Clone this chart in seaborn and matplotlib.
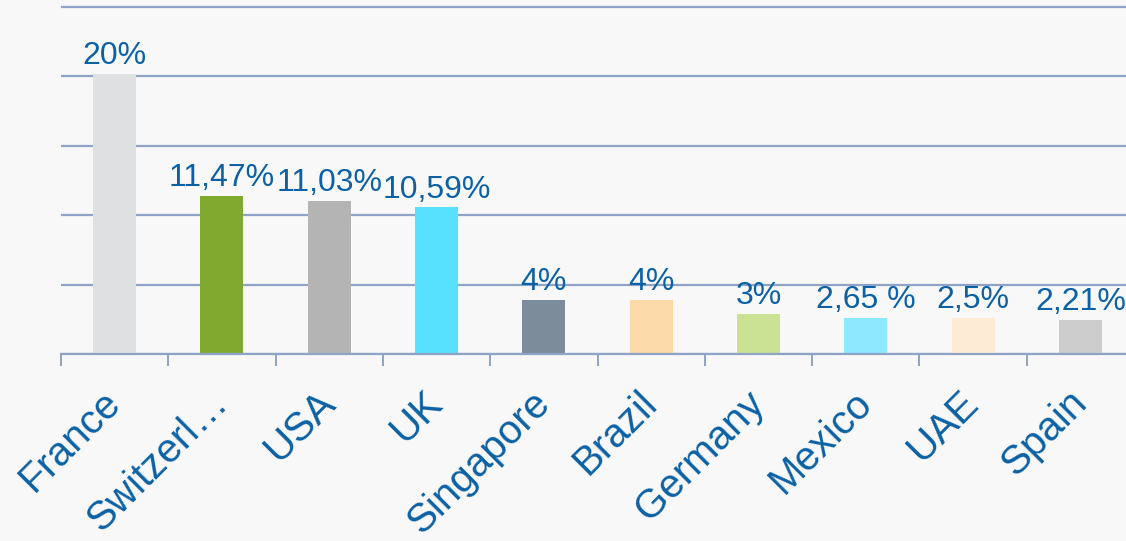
import matplotlib
matplotlib.use("Agg")
import matplotlib.pyplot as plt
import seaborn as sns
import pandas as pd

# --- data ---
countries = ["France", "Switzerl\u2026", "USA", "UK", "Singapore",
             "Brazil", "Germany", "Mexico", "UAE", "Spain"]
shares = [20.17, 11.4, 11.04, 10.57, 3.89, 3.89, 2.88, 2.59, 2.59, 2.45]
share_labels = ["20%", "11,47%", "11,03%", "10,59%", "4%",
                "4%", "3%", "2,65 %", "2,5%", "2,21%"]
bar_colors = ["#DFE0E1", "#82A92F", "#B4B4B4", "#58E1FF", "#7D8C9B",
              "#FBD9A8", "#CBE194", "#8DE9FF", "#FEEBD5", "#CCCCCC"]

df = pd.DataFrame({"country": countries, "share": shares})

sns.set_style("white")
plt.rcParams["font.family"] = ["Liberation Sans", "DejaVu Sans"]

bg = "#F8F8F8"
line_col = "#8FA3C7"
text_col = "#0B61A4"

fig = plt.figure(figsize=(11.26, 5.41), dpi=100, facecolor=bg)
ax = fig.add_axes([61 / 1126, 187 / 541, 1073 / 1126, 349.8 / 541])
ax.set_facecolor(bg)

sns.barplot(data=df, x="country", y="share", hue="country",
            palette=bar_colors, width=0.4, legend=False, ax=ax,
            saturation=1, linewidth=0)

ax.set_xlim(-0.5, len(countries) - 0.5)
ax.set_ylim(0, 25.2)

# gridlines every 5%
ax.set_yticks([0, 5, 10, 15, 20, 25])
ax.set_yticklabels([])
ax.tick_params(axis="y", length=0)
ax.grid(axis="y", color=line_col, linewidth=1.6)
ax.set_axisbelow(True)

for side in ["top", "left", "right"]:
    ax.spines[side].set_visible(False)
ax.spines["bottom"].set_color(line_col)
ax.spines["bottom"].set_linewidth(1.6)

# category separators as minor ticks
ax.set_xticks([i - 0.5 for i in range(len(countries) + 1)], minor=True)
ax.tick_params(axis="x", which="minor", bottom=True, length=8.6, width=1.4,
               color=line_col, direction="out")
ax.set_xticks(range(len(countries)))
ax.set_xticklabels(countries, rotation=45, ha="right", va="center",
                   rotation_mode="anchor", fontsize=29, color=text_col)
ax.tick_params(axis="x", which="major", length=0, pad=31)
ax.set_xlabel("")
ax.set_ylabel("")

bars = [c for cont in ax.containers for c in cont]
for bar, lab in zip(bars, share_labels):
    ax.annotate(lab, (bar.get_x() + bar.get_width() / 2, bar.get_height()),
                xytext=(0, 2), textcoords="offset points",
                ha="center", va="bottom", fontsize=23, color=text_col,
                annotation_clip=False)

fig.savefig("out.png", dpi=100, facecolor=bg)
